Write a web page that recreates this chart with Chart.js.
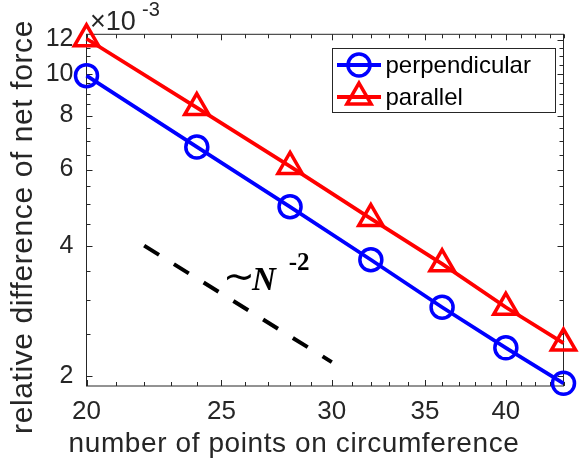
<!DOCTYPE html>
<html lang="en">

<head>
    <meta charset="UTF-8">
    <title>Net force convergence</title>
    <script src="https://cdn.jsdelivr.net/npm/chart.js@4.4.0/dist/chart.umd.min.js"></script>
    <style>
        body { margin: 0; background: #fff; }
    </style>
</head>

<body>
    <canvas id="chart" width="581" height="465"></canvas>
    <script>
        // data (y values in units of 1e-3)
        const nPoints = [20, 24, 28, 32, 36, 40, 44];
        const perpendicular = [9.9, 6.77, 4.92, 3.71, 2.88, 2.32, 1.92];
        const parallel = [12.05, 8.35, 6.1, 4.62, 3.63, 2.88, 2.38];
        const slopeN = [22, 30];
        const slopeRef = [4.0, 2.15];

        const xTickLabels = [20, 25, 30, 35, 40];
        const yTickLabels = [2, 4, 6, 8, 10, 12];
        const xMinorTicks = [20, 21, 22, 23, 24, 25, 26, 27, 28, 29, 30, 31, 32, 33, 34, 35, 36, 37, 38, 39, 40, 41, 42, 43, 44];
        const yMinorTicks = [2, 2.5, 3, 3.5, 4, 4.5, 5, 5.5, 6, 6.5, 7, 7.5, 8, 8.5, 9, 9.5, 10, 10.5, 11, 11.5, 12];

        const ink = '#262626';
        const sans = '"Liberation Sans", Arial, sans-serif';
        const serif = '"Liberation Serif", "Times New Roman", serif';

        const pts = (xs, ys) => xs.map((x, i) => ({ x: x, y: ys[i] }));

        // box, inward ticks, labels and legend in MATLAB style
        const matlabAxes = {
            id: 'matlabAxes',
            beforeDatasetsDraw(chart) {
                const { ctx, chartArea: a, scales: { x, y } } = chart;
                ctx.save();
                ctx.strokeStyle = ink;
                ctx.lineWidth = 1;
                ctx.strokeRect(a.left, a.top, a.right - a.left, a.bottom - a.top);
                ctx.beginPath();
                x.ticks.forEach(t => {
                    const px = Math.round(x.getPixelForValue(t.value)) + 0.5;
                    const len = xTickLabels.includes(t.value) ? 6 : 4;
                    ctx.moveTo(px, a.bottom); ctx.lineTo(px, a.bottom - len);
                    ctx.moveTo(px, a.top); ctx.lineTo(px, a.top + len);
                });
                y.ticks.forEach(t => {
                    const py = Math.round(y.getPixelForValue(t.value)) + 0.5;
                    const len = yTickLabels.includes(t.value) ? 6 : 4;
                    ctx.moveTo(a.left, py); ctx.lineTo(a.left + len, py);
                    ctx.moveTo(a.right, py); ctx.lineTo(a.right - len, py);
                });
                ctx.stroke();
                ctx.restore();
            },
            afterDraw(chart) {
                const { ctx, chartArea: a, scales: { x, y } } = chart;
                ctx.save();
                ctx.fillStyle = ink;

                // axis titles
                ctx.letterSpacing = '0.6px';
                ctx.font = '28px ' + sans;
                ctx.textAlign = 'center';
                ctx.textBaseline = 'alphabetic';
                ctx.fillText('number of points on circumference', 294, 452);
                ctx.save();
                ctx.translate(32, 227);
                ctx.rotate(-Math.PI / 2);
                ctx.letterSpacing = '0.6px';
                ctx.font = '30px ' + sans;
                ctx.fillText('relative difference of net force', 0, 0);
                ctx.restore();

                // exponent label
                ctx.letterSpacing = '0px';
                ctx.textAlign = 'left';
                ctx.font = '27px ' + sans;
                ctx.fillText('\u00d710', 90, 30);
                ctx.font = '20px ' + sans;
                ctx.fillText('-3', 142, 16);

                // slope annotation
                ctx.fillStyle = '#000';
                const sx = x.getPixelForValue(25.1), sy = y.getPixelForValue(3.16);
                ctx.font = '38px ' + serif;
                ctx.fillText('\u223c', sx - 1, sy - 1);
                const w1 = ctx.measureText('\u223c').width;
                ctx.font = 'italic bold 33px ' + serif;
                ctx.fillText('N', sx + w1 - 4, sy);
                const w2 = ctx.measureText('N').width;
                ctx.font = 'bold 25px ' + serif;
                ctx.fillText('-2', sx + w1 + w2 + 9, sy - 20);

                // legend
                const lx = 332.5, ly = 48.5, lw = 223, lh = 64;
                ctx.fillStyle = '#fff';
                ctx.fillRect(lx, ly, lw, lh);
                ctx.strokeStyle = ink;
                ctx.lineWidth = 1;
                ctx.strokeRect(lx, ly, lw, lh);
                chart.data.datasets.slice(0, 2).forEach((ds, i) => {
                    const yy = ly + 16.5 + i * 32;
                    ctx.strokeStyle = ds.borderColor;
                    ctx.lineWidth = ds.borderWidth;
                    ctx.beginPath();
                    ctx.moveTo(lx + 4.5, yy);
                    ctx.lineTo(lx + 48.5, yy);
                    ctx.stroke();
                    ctx.lineWidth = ds.pointBorderWidth;
                    ctx.fillStyle = 'rgba(0,0,0,0)';
                    Chart.helpers.drawPoint(ctx, {
                        pointStyle: ds.pointStyle, radius: ds.pointRadius,
                        rotation: 0, borderWidth: ds.pointBorderWidth
                    }, lx + 26.5, yy);
                    ctx.fillStyle = '#000';
                    ctx.font = '24px ' + sans;
                    ctx.textBaseline = 'middle';
                    ctx.fillText(ds.label, lx + 53, yy + 1);
                });
                ctx.restore();
            }
        };

        const ctx = document.getElementById('chart').getContext('2d');
        const myChart = new Chart(ctx, {
            type: 'line',
            data: {
                datasets: [{
                    label: 'perpendicular',
                    data: pts(nPoints, perpendicular),
                    borderColor: '#0000ff',
                    borderWidth: 3.8,
                    pointStyle: 'circle',
                    pointRadius: 11,
                    pointBorderWidth: 3.5,
                    pointBorderColor: '#0000ff',
                    pointBackgroundColor: 'rgba(0,0,0,0)',
                    clip: false
                }, {
                    label: 'parallel',
                    data: pts(nPoints, parallel),
                    borderColor: '#ff0000',
                    borderWidth: 3.8,
                    pointStyle: 'triangle',
                    pointRadius: 14,
                    pointBorderWidth: 3.5,
                    pointBorderColor: '#ff0000',
                    pointBackgroundColor: 'rgba(0,0,0,0)',
                    clip: false
                }, {
                    label: 'slope',
                    data: pts(slopeN, slopeRef),
                    borderColor: '#000',
                    borderWidth: 4,
                    borderDash: [17.5, 17.5],
                    borderCapStyle: 'butt',
                    pointRadius: 0,
                    clip: false
                }]
            },
            options: {
                responsive: false,
                animation: false,
                devicePixelRatio: 1,
                layout: { padding: { left: 0, top: 34.3, right: 12.5, bottom: 0 } },
                plugins: { legend: { display: false }, tooltip: { enabled: false } },
                scales: {
                    x: {
                        type: 'logarithmic',
                        min: 20,
                        max: 44,
                        afterBuildTicks: s => { s.ticks = xMinorTicks.map(v => ({ value: v })); },
                        afterFit: s => { s.height = 79; },
                        grid: { display: false, drawTicks: false },
                        border: { display: false },
                        ticks: {
                            autoSkip: false,
                            maxRotation: 0,
                            padding: 10,
                            color: ink,
                            font: { family: sans, size: 26 },
                            callback: v => xTickLabels.includes(v) ? String(v) : ''
                        }
                    },
                    y: {
                        type: 'logarithmic',
                        min: 1.893,
                        max: 12.34,
                        afterBuildTicks: s => { s.ticks = yMinorTicks.map(v => ({ value: v })); },
                        afterFit: s => { s.width = 86.5; },
                        grid: { display: false, drawTicks: false },
                        border: { display: false },
                        ticks: {
                            autoSkip: false,
                            padding: 13,
                            color: ink,
                            font: { family: sans, size: 25 },
                            callback: v => yTickLabels.includes(v) ? String(v) : ''
                        }
                    }
                }
            },
            plugins: [matlabAxes]
        });
    </script>
</body>

</html>
